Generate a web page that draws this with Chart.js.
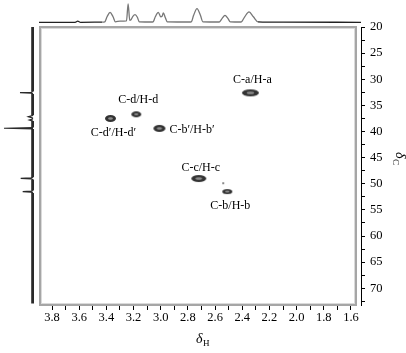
<!DOCTYPE html>
<html>
<head>
<meta charset="utf-8">
<script src="https://cdn.jsdelivr.net/npm/chart.js@4.4.1/dist/chart.umd.min.js"></script>
<style>
    html, body { margin: 0; padding: 0; background: #fff; }
    #wrap { position: relative; width: 406px; height: 353px; }
    canvas { position: absolute; left: 0; top: 0; }
</style>
</head>
<body>
<div id="wrap">
    <canvas id="mainChart" width="406" height="353" style="width:406px;height:353px"></canvas>
    <canvas id="topChart" width="406" height="24" style="width:406px;height:24px"></canvas>
    <canvas id="leftChart" width="40" height="353" style="width:40px;height:353px"></canvas>
</div>
<script>
// cross peaks (deltaH, deltaC)
const peakH = [2.34, 3.18, 3.37, 3.01, 2.72, 2.51, 2.54];
const peakC = [32.6, 36.7, 37.5, 39.4, 49.0, 51.5, 49.9];
const peakNames = ['C-a/H-a', 'C-d/H-d', 'C-d′/H-d′', 'C-b′/H-b′', 'C-c/H-c', 'C-b/H-b', ''];

// 1H projection trace (top)
const projH = [3.896, 3.63, 3.611, 3.59, 3.43, 3.412, 3.395, 3.373, 3.351, 3.334, 3.30, 3.252, 3.240, 3.228,
    3.219, 3.205, 3.189, 3.172, 3.158, 3.06, 3.055, 3.040, 3.018, 3.000, 2.990, 2.981, 2.966, 2.952,
    2.78, 2.774, 2.758, 2.733, 2.708, 2.690, 2.57, 2.566, 2.548, 2.527, 2.506, 2.488,
    2.41, 2.405, 2.382, 2.350, 2.318, 2.284, 2.10, 1.526];
const projHInt = [0, 0, 1.2, 0, 0.2, 0.5, 5.5, 10, 5.5, 0.5, 1.2, 1.5, 18.4, 2,
    2.5, 6, 7.7, 5, 0.5, 0.3, 0.5, 5.5, 10, 5.5, 6, 9.4, 4.5, 0.5,
    0.3, 0.5, 7, 13.7, 7, 0.5, 0.3, 0.5, 4, 7, 4, 0.5,
    0.3, 0.5, 5.5, 10.4, 5.5, 0.5, 0.2, 0];

// 13C projection trace (left)
const projC = [19.94, 32.35, 32.5, 32.57, 32.65, 32.8, 36.9, 37.16, 37.4, 37.6, 37.8, 38.0,
    39.25, 39.38, 39.5, 48.75, 48.88, 48.95, 49.05, 49.2, 51.3, 51.42, 51.5, 51.6, 51.75, 72.9];
const projCInt = [0, 0, 2, 13, 2, 0, 0, 4.7, 0.5, 0.5, 3.7, 0,
    0, 29, 0, 0, 2, 12.3, 2, 0, 0, 2, 10.3, 2, 0, 0];

// axis ticks
const xLabels = [3.8, 3.6, 3.4, 3.2, 3.0, 2.8, 2.6, 2.4, 2.2, 2.0, 1.8, 1.6];
const xMinor = [3.7, 3.5, 3.3, 3.1, 2.9, 2.7, 2.5, 2.3, 2.1, 1.9, 1.7];
const yLabels = [20, 25, 30, 35, 40, 45, 50, 55, 60, 65, 70];
const yMinor = [22.5, 27.5, 32.5, 37.5, 42.5, 47.5, 52.5, 57.5, 62.5, 67.5, 72.5];

// axis ranges
const X_MIN = 1.526, X_MAX = 3.896;
const Y_MIN = 20, Y_MAX = 73.2;

const SERIF = "'Liberation Serif', 'Times New Roman', serif";

// spot size per peak and label offset from the peak
const spotSize = [[17, 7], [10, 6], [11, 7], [12, 7], [15, 7], [10, 5], [2, 2]];
const labelOffset = [[2, -13, 'center'], [2, -14, 'center'], [3, 14, 'center'], [10, 1, 'left'],
    [2, -11, 'center'], [3, 14, 'center'], [0, 0, 'center']];

// contour spot drawn as a dark ring with a grey middle
function makeSpot(w, h) {
    const c = document.createElement('canvas');
    c.width = w + 2; c.height = h + 2;
    const g = c.getContext('2d');
    if (w < 4) {
        g.fillStyle = '#8a8a8a';
        g.fillRect(1, 1, w, h);
        return c;
    }
    g.fillStyle = '#333';
    g.beginPath(); g.ellipse(c.width / 2, c.height / 2, w / 2, h / 2, 0, 0, Math.PI * 2); g.fill();
    g.fillStyle = '#8c8c8c';
    g.beginPath(); g.ellipse(c.width / 2, c.height / 2, w * 0.22, h * 0.18, 0, 0, Math.PI * 2); g.fill();
    return c;
}

const near = (list, v) => list.some(t => Math.abs(t - v) < 1e-6);

// frame, peak labels and axis titles
const decor = {
    id: 'decor',
    afterDatasetsDraw(chart) {
        const ctx = chart.ctx;
        const meta = chart.getDatasetMeta(0);
        ctx.save();
        ctx.fillStyle = '#000';
        ctx.font = '12px ' + SERIF;
        ctx.textBaseline = 'middle';
        meta.data.forEach((pt, i) => {
            if (!peakNames[i]) return;
            const o = labelOffset[i];
            ctx.textAlign = o[2];
            ctx.fillText(peakNames[i], pt.x + o[0], pt.y + o[1]);
        });
        ctx.restore();
    },
    afterDraw(chart) {
        const ctx = chart.ctx;
        ctx.save();
        // grey double frame round the 2D plot
        ctx.strokeStyle = '#a6a6a6';
        ctx.lineWidth = 2;
        ctx.strokeRect(40, 27, 316, 278);
        ctx.strokeStyle = '#dadada';
        ctx.lineWidth = 1;
        ctx.strokeRect(41.5, 28.5, 313, 275);

        // x title: deltaH
        ctx.fillStyle = '#000';
        ctx.textBaseline = 'alphabetic';
        ctx.textAlign = 'left';
        ctx.font = 'italic 14px ' + SERIF;
        ctx.fillText('δ', 196, 343);
        ctx.font = '9px ' + SERIF;
        ctx.fillText('H', 203, 346);

        // y title: deltaC, turned
        ctx.translate(396, 152);
        ctx.rotate(Math.PI / 2);
        ctx.font = 'italic 14px ' + SERIF;
        ctx.fillText('δ', 0, 0);
        ctx.font = '9px ' + SERIF;
        ctx.fillText('C', 7, 3);
        ctx.restore();
    }
};

// build the 2D correlation map
function buildMainChart() {
    const ctx = document.getElementById('mainChart').getContext('2d');
    new Chart(ctx, {
        type: 'scatter',
        data: {
            datasets: [{
                data: peakH.map((h, i) => ({ x: h, y: peakC[i] })),
                pointStyle: spotSize.map(s => makeSpot(s[0], s[1])),
                pointRadius: 5,
            }]
        },
        options: {
            responsive: false,
            animation: false,
            events: [],
            layout: { padding: { left: 39, top: 27, right: 0, bottom: 0 } },
            plugins: { legend: { display: false }, tooltip: { enabled: false } },
            scales: {
                x: {
                    type: 'linear',
                    reverse: true,
                    min: X_MIN,
                    max: X_MAX,
                    afterFit: s => { s.height = 48; },
                    afterBuildTicks: s => { s.ticks = xLabels.concat(xMinor).sort((a, b) => a - b).map(v => ({ value: v })); },
                    border: { display: false },
                    grid: { drawOnChartArea: false, tickLength: 5, tickColor: '#000', tickWidth: 1 },
                    ticks: {
                        color: '#000',
                        font: { family: SERIF, size: 12.5 },
                        padding: 0,
                        maxRotation: 0,
                        autoSkip: false,
                        callback: v => near(xLabels, v) ? v.toFixed(1) : ''
                    }
                },
                y: {
                    type: 'linear',
                    position: 'right',
                    reverse: true,
                    min: Y_MIN,
                    max: Y_MAX,
                    afterFit: s => { s.width = 45; },
                    afterBuildTicks: s => { s.ticks = yLabels.concat(yMinor).sort((a, b) => a - b).map(v => ({ value: v })); },
                    border: { display: true, color: '#000', width: 1 },
                    grid: { drawOnChartArea: false, tickLength: 4, tickColor: '#000', tickWidth: 1 },
                    ticks: {
                        color: '#000',
                        font: { family: SERIF, size: 12.5 },
                        padding: 5,
                        autoSkip: false,
                        callback: v => near(yLabels, v) ? String(v) : ''
                    }
                }
            }
        },
        plugins: [decor]
    });
}

// build the 1H projection above the map
function buildTopChart() {
    const ctx = document.getElementById('topChart').getContext('2d');
    new Chart(ctx, {
        type: 'scatter',
        data: {
            datasets: [{
                data: projH.map((h, i) => ({ x: h, y: projHInt[i] })),
                showLine: true,
                pointRadius: 0,
                borderWidth: 1.3,
                borderColor: '#777',
                cubicInterpolationMode: 'monotone',
                segment: {
                    // darker baseline at both ends
                    borderColor: c => (c.p0.parsed.x > 3.45 || c.p1.parsed.x < 2.15) ? '#222' : '#777'
                }
            }]
        },
        options: {
            responsive: false,
            animation: false,
            events: [],
            layout: { padding: { left: 39, right: 45, top: 0, bottom: 1 } },
            plugins: { legend: { display: false }, tooltip: { enabled: false } },
            scales: {
                x: { type: 'linear', display: false, reverse: true, min: X_MIN, max: X_MAX },
                y: { type: 'linear', display: false, min: -0.7, max: 22.3 }
            }
        }
    });
}

// build the 13C projection left of the map
function buildLeftChart() {
    const ctx = document.getElementById('leftChart').getContext('2d');
    new Chart(ctx, {
        type: 'scatter',
        data: {
            datasets: [{
                data: projC.map((c, i) => ({ x: projCInt[i], y: c })),
                showLine: true,
                pointRadius: 0,
                borderColor: '#2a2a2a',
                borderWidth: 1.2,
                tension: 0,
                segment: {
                    // noisy baseline looks like a thick band
                    borderWidth: c => (c.p0.parsed.x === 0 && c.p1.parsed.x === 0) ? 3.6 : 1.2
                }
            }]
        },
        options: {
            responsive: false,
            animation: false,
            events: [],
            layout: { padding: { left: 0, right: 6, top: 27, bottom: 48 } },
            plugins: { legend: { display: false }, tooltip: { enabled: false } },
            scales: {
                x: { type: 'linear', display: false, reverse: true, min: -1, max: 33 },
                y: { type: 'linear', display: false, reverse: true, min: Y_MIN, max: Y_MAX }
            }
        }
    });
}

buildMainChart();
buildTopChart();
buildLeftChart();
</script>
</body>
</html>
